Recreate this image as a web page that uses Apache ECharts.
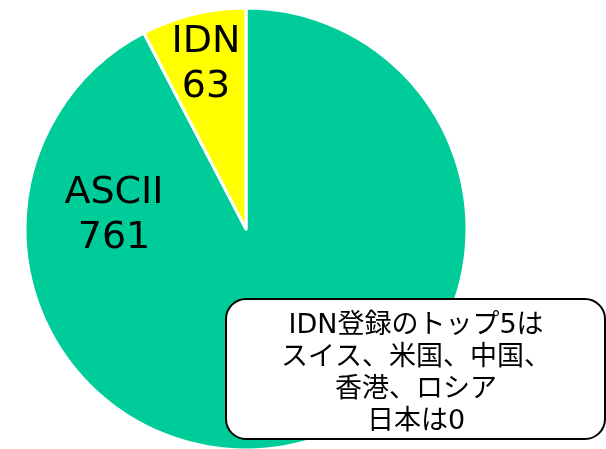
<!DOCTYPE html>
<html>
<head>
<meta charset="utf-8">
<script src="https://cdn.jsdelivr.net/npm/echarts@6/dist/echarts.min.js"></script>
<style>
  html, body { margin: 0; padding: 0; background: #fff; }
  #chart { width: 606px; height: 449px; }
</style>
</head>
<body>
<div id="chart"></div>
<script>
const categories = ['ASCII', 'IDN'];
const counts = [761, 63];
const colors = ['#00CC99', '#FFFF00'];
const noteLines = ['IDN登録のトップ5は', 'スイス、米国、中国、', '香港、ロシア', '日本は0'];

const labelPos = [
  { x: 114, y: 216 },
  { x: 206, y: 65 }
];

const chart = echarts.init(document.getElementById('chart'));

chart.setOption({
  animation: false,
  series: [{
    type: 'pie',
    center: [246, 229],
    radius: 221,
    startAngle: 90,
    clockwise: true,
    itemStyle: { borderColor: '#fff', borderWidth: 3 },
    label: {
      show: true,
      position: 'inside',
      formatter: '{b}\n{c}',
      color: '#000',
      fontSize: 38,
      lineHeight: 45,
      fontFamily: 'DejaVu Sans, Noto Sans CJK JP'
    },
    labelLine: { show: false },
    labelLayout: function (params) {
      return { x: labelPos[params.dataIndex].x, y: labelPos[params.dataIndex].y, align: 'center', verticalAlign: 'middle' };
    },
    data: categories.map((c, i) => ({ name: c, value: counts[i], itemStyle: { color: colors[i] } }))
  }],
  graphic: [{
    type: 'group',
    left: 225,
    top: 298,
    z: 100,
    children: [{
      type: 'rect',
      z: 100,
      shape: { x: 0, y: 0, width: 379, height: 140, r: 20 },
      style: { fill: '#fff', stroke: '#000', lineWidth: 2 }
    }, {
      type: 'text',
      z: 101,
      x: 190,
      y: 75,
      style: {
        text: noteLines.join('\n'),
        fill: '#000',
        font: '27px "DejaVu Sans", "Noto Sans CJK JP"',
        lineHeight: 32,
        align: 'center',
        verticalAlign: 'middle'
      }
    }]
  }]
});
</script>
</body>
</html>
